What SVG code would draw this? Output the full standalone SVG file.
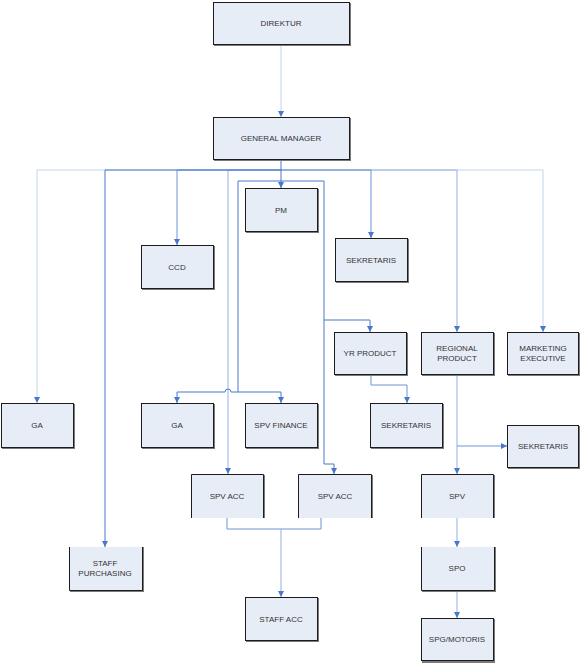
<svg xmlns="http://www.w3.org/2000/svg" width="580" height="663" viewBox="0 0 580 663">
<style>
.b{fill:#E7EDF7;stroke:#1c1c1c;stroke-width:1}
.s{fill:#7a7a7a}
.f{fill:#E7EDF7}
.e{fill:none;stroke:#1c1c1c;stroke-width:1}
.t{font-family:"Liberation Sans",Arial,sans-serif;font-size:8px;fill:#333;text-anchor:middle}
.c{fill:none;stroke-width:1}
.d{stroke:#4A7BC9}
.m{stroke:#6C94D7}
.l{stroke:#93B1E2}
.x{stroke:#C3D4EE}
</style>
<defs>
<marker id="ar" markerWidth="6" markerHeight="6" refX="6" refY="3" orient="auto" markerUnits="userSpaceOnUse">
<path d="M0,0 L6,3 L0,6 z" fill="#4A78C8"/>
</marker>
</defs>
<g id="connectors">
<path class="c x" d="M281,44 V117" marker-end="url(#ar)"/>
<path class="c x" d="M281,170 H37 V403" marker-end="url(#ar)"/>
<path class="c x" d="M281,170 H543 V332" marker-end="url(#ar)"/>
<path class="c l" d="M281,170 H457 V332" marker-end="url(#ar)"/>
<path class="c l" d="M281,170 H228 V474" marker-end="url(#ar)"/>
<path class="c m" d="M281,170 H177 V245" marker-end="url(#ar)"/>
<path class="c m" d="M281,170 H371 V238" marker-end="url(#ar)"/>
<path class="c d" d="M281,170 H105 V547" marker-end="url(#ar)"/>
<path class="c d" d="M281,159 V188" marker-end="url(#ar)"/>
<path class="c d" d="M238,392 V181 H324 V464 H334 V474" marker-end="url(#ar)"/>
<path class="c d" d="M324,320 H370 V332" marker-end="url(#ar)"/>
<path class="c d" d="M238,392 H231 A3,3 0 0 0 225,392 H177 V403" marker-end="url(#ar)"/>
<path class="c d" d="M238,392 H281 V403" marker-end="url(#ar)"/>
<path class="c m" d="M371,374 V385 H407 V403" marker-end="url(#ar)"/>
<path class="c l" d="M457,374 V474" marker-end="url(#ar)"/>
<path class="c m" d="M457,446 H507" marker-end="url(#ar)"/>
<path class="c m" d="M227,518 V529 H321 V518"/>
<path class="c l" d="M281,529 V597" marker-end="url(#ar)"/>
<path class="c l" d="M457,518 V547" marker-end="url(#ar)"/>
<path class="c l" d="M457,590 V618" marker-end="url(#ar)"/>
</g>
<g id="direktur"><rect class="s" x="214" y="3" width="137" height="43"/><rect class="b" x="213.5" y="2.5" width="136" height="42"/><text class="t" x="281" y="26">DIREKTUR</text></g>
<g id="gm"><rect class="s" x="214" y="118" width="137" height="43"/><rect class="b" x="213.5" y="117.5" width="136" height="42"/><text class="t" x="281" y="141">GENERAL MANAGER</text></g>
<g id="pm"><rect class="s" x="246" y="189" width="73" height="44"/><rect class="b" x="245.5" y="188.5" width="72" height="43"/><text class="t" x="281" y="213">PM</text></g>
<g id="ccd"><rect class="s" x="142" y="246" width="73" height="44"/><rect class="b" x="141.5" y="245.5" width="72" height="43"/><text class="t" x="177" y="270">CCD</text></g>
<g id="sekretaris1"><rect class="s" x="336" y="239" width="73" height="44"/><rect class="b" x="335.5" y="238.5" width="72" height="43"/><text class="t" x="371" y="263">SEKRETARIS</text></g>
<g id="yrproduct"><rect class="s" x="335" y="333" width="73" height="43"/><rect class="b" x="334.5" y="332.5" width="72" height="42"/><text class="t" x="370" y="356">YR PRODUCT</text></g>
<g id="regional"><rect class="s" x="422" y="333" width="73" height="43"/><rect class="b" x="421.5" y="332.5" width="72" height="42"/><text class="t" x="457" y="351">REGIONAL</text><text class="t" x="457" y="361">PRODUCT</text></g>
<g id="marketing"><rect class="s" x="508" y="333" width="72" height="43"/><rect class="b" x="507.5" y="332.5" width="71" height="42"/><text class="t" x="543" y="351">MARKETING</text><text class="t" x="543" y="361">EXECUTIVE</text></g>
<g id="ga1"><rect class="s" x="2" y="404" width="73" height="45"/><rect class="b" x="1.5" y="403.5" width="72" height="44"/><text class="t" x="37" y="428">GA</text></g>
<g id="ga2"><rect class="s" x="142" y="404" width="73" height="45"/><rect class="b" x="141.5" y="403.5" width="72" height="44"/><text class="t" x="177" y="428">GA</text></g>
<g id="spvfinance"><rect class="s" x="246" y="404" width="73" height="45"/><rect class="b" x="245.5" y="403.5" width="72" height="44"/><text class="t" x="281" y="428">SPV FINANCE</text></g>
<g id="sekretaris2"><rect class="s" x="371" y="404" width="73" height="45"/><rect class="b" x="370.5" y="403.5" width="72" height="44"/><text class="t" x="406" y="428">SEKRETARIS</text></g>
<g id="sekretaris3"><rect class="s" x="508" y="426" width="72" height="43"/><rect class="b" x="507.5" y="425.5" width="71" height="42"/><text class="t" x="543" y="449">SEKRETARIS</text></g>
<g id="spvacc1"><rect class="f" x="191" y="474" width="73" height="44"/><path class="s" d="M263,475 h2 v43 h-2 z"/><path class="e" d="M191.5,518 V474.5 H263.5 V518"/><text class="t" x="227" y="499">SPV ACC</text></g>
<g id="spvacc2"><rect class="f" x="298" y="474" width="73" height="44"/><path class="s" d="M371,475 h2 v43 h-2 z"/><path class="e" d="M298.5,518 V474.5 H371.5 V518"/><text class="t" x="335" y="499">SPV ACC</text></g>
<g id="spv"><rect class="f" x="421" y="474" width="73" height="44"/><path class="s" d="M493,475 h2 v43 h-2 z"/><path class="e" d="M421.5,518 V474.5 H493.5 V518"/><text class="t" x="457" y="499">SPV</text></g>
<g id="staffpurchasing"><rect class="f" x="69" y="547" width="73" height="44"/><path class="s" d="M142,547 h2 v45 h-74 v-2 h72 z"/><path class="e" d="M69.5,547 V590.5 H142.5 V547"/><text class="t" x="105" y="566">STAFF</text><text class="t" x="105" y="576">PURCHASING</text></g>
<g id="spo"><rect class="f" x="421" y="547" width="73" height="44"/><path class="s" d="M494,547 h2 v45 h-74 v-2 h72 z"/><path class="e" d="M421.5,547 V590.5 H494.5 V547"/><text class="t" x="457" y="571">SPO</text></g>
<g id="staffacc"><rect class="s" x="246" y="598" width="73" height="44"/><rect class="b" x="245.5" y="597.5" width="72" height="43"/><text class="t" x="281" y="622">STAFF ACC</text></g>
<g id="spgmotoris"><rect class="s" x="422" y="619" width="73" height="44"/><rect class="b" x="421.5" y="618.5" width="72" height="42"/><text class="t" x="457" y="642">SPG/MOTORIS</text></g>
</svg>
